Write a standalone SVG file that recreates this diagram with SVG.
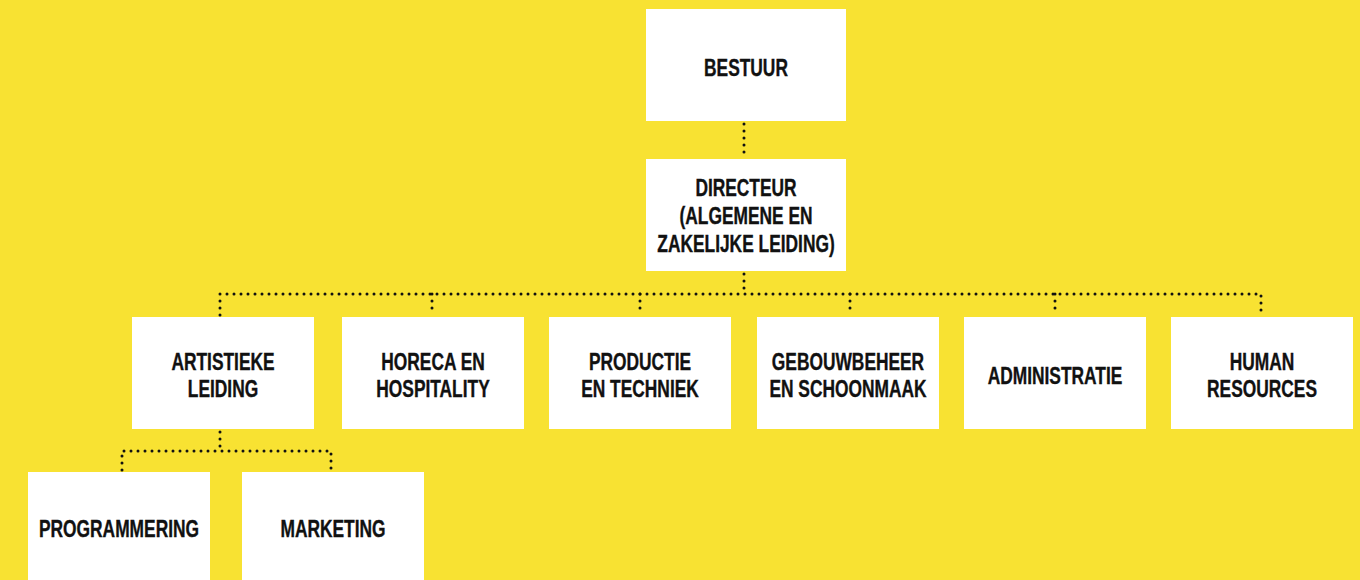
<svg xmlns="http://www.w3.org/2000/svg" width="1360" height="580" viewBox="0 0 1360 580">
<style>
.box{fill:#ffffff}
.t{font-family:"Liberation Sans",Arial,sans-serif;font-weight:bold;font-size:23px;fill:#111111;stroke:#111111;stroke-width:0.35;text-anchor:middle}
.c{fill:none;stroke:#111111;stroke-width:3;stroke-linecap:round;stroke-dasharray:0 7}
</style>
<rect width="1360" height="580" fill="#F8E232"/>
<g id="connectors">
<path class="c" d="M744 124 V157"/>
<path class="c" d="M744 274 V294"/>
<path class="c" d="M220 315 V294 H1261 V315"/>
<path class="c" d="M432 294 V315"/>
<path class="c" d="M640 294 V315"/>
<path class="c" d="M850 294 V315"/>
<path class="c" d="M1055 294 V315"/>
<path class="c" d="M220 432 V451"/>
<path class="c" d="M122 470 V451 H331 V470"/>
</g>
<g id="bestuur"><rect class="box" x="646" y="9" width="200" height="112"/><g transform="translate(746 0) scale(0.755 1)"><text class="t" x="0" y="76">BESTUUR</text></g></g>
<g id="directeur"><rect class="box" x="646" y="159" width="200" height="112"/><g transform="translate(746 0) scale(0.755 1)"><text class="t" x="0" y="196">DIRECTEUR</text><text class="t" x="0" y="224">(ALGEMENE EN</text><text class="t" x="0" y="252">ZAKELIJKE LEIDING)</text></g></g>
<g id="artistieke"><rect class="box" x="132" y="317" width="182" height="112"/><g transform="translate(223 0) scale(0.755 1)"><text class="t" x="0" y="370">ARTISTIEKE</text><text class="t" x="0" y="397">LEIDING</text></g></g>
<g id="horeca"><rect class="box" x="342" y="317" width="182" height="112"/><g transform="translate(433 0) scale(0.755 1)"><text class="t" x="0" y="370">HORECA EN</text><text class="t" x="0" y="397">HOSPITALITY</text></g></g>
<g id="productie"><rect class="box" x="549" y="317" width="182" height="112"/><g transform="translate(640 0) scale(0.755 1)"><text class="t" x="0" y="370">PRODUCTIE</text><text class="t" x="0" y="397">EN TECHNIEK</text></g></g>
<g id="gebouwbeheer"><rect class="box" x="757" y="317" width="182" height="112"/><g transform="translate(848 0) scale(0.755 1)"><text class="t" x="0" y="370">GEBOUWBEHEER</text><text class="t" x="0" y="397">EN SCHOONMAAK</text></g></g>
<g id="administratie"><rect class="box" x="964" y="317" width="182" height="112"/><g transform="translate(1055 0) scale(0.755 1)"><text class="t" x="0" y="384">ADMINISTRATIE</text></g></g>
<g id="hr"><rect class="box" x="1171" y="317" width="182" height="112"/><g transform="translate(1262 0) scale(0.755 1)"><text class="t" x="0" y="370">HUMAN</text><text class="t" x="0" y="397">RESOURCES</text></g></g>
<g id="programmering"><rect class="box" x="28" y="472" width="182" height="120"/><g transform="translate(119 0) scale(0.755 1)"><text class="t" x="0" y="537">PROGRAMMERING</text></g></g>
<g id="marketing"><rect class="box" x="242" y="472" width="182" height="120"/><g transform="translate(333 0) scale(0.755 1)"><text class="t" x="0" y="537">MARKETING</text></g></g>
</svg>
